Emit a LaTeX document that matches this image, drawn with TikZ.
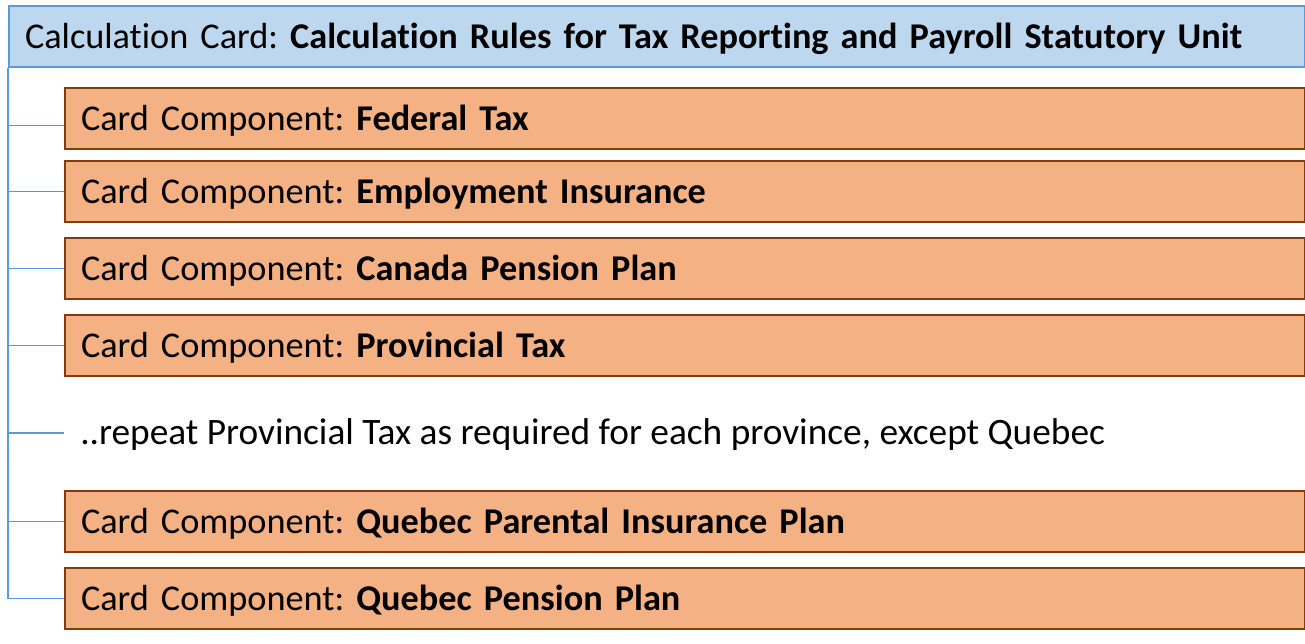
\documentclass[tikz,border=0pt]{standalone}
\usepackage{fontspec}
\setmainfont{Carlito}[Ligatures={NoCommon}]
\frenchspacing
\definecolor{hdrfill}{HTML}{BDD7EE}
\definecolor{hdrline}{HTML}{5B9BD5}
\definecolor{cmpfill}{HTML}{F4B183}
\definecolor{cmpline}{HTML}{843C0C}
\tikzset{
  base/.style={anchor=north west, align=left, inner xsep=12pt, inner ysep=0pt,
    font=\fontsize{27.2}{32}\selectfont\frenchspacing, text height=17.4pt, text depth=0pt,
    minimum height=45.75pt},
  hdrbox/.style={base, draw=hdrline, fill=hdrfill, line width=1.5pt, text width=948pt},
  cmpbox/.style={base, draw=cmpline, fill=cmpfill, line width=1.5pt, text width=906pt},
  plain/.style={anchor=west, inner xsep=12pt, inner ysep=0pt,
    font=\fontsize{28}{33}\selectfont\frenchspacing, text height=17.4pt, text depth=0pt},
  conn/.style={draw=hdrline, line width=0.8pt}
}
\begin{document}
\begin{tikzpicture}[x=0.75pt, y=-0.75pt]
\useasboundingbox (0,0) rectangle (1305,643);
\node[hdrbox] (hdr) at (8,5) {Calculation Card: \textbf{Calculation Rules for Tax Reporting and Payroll Statutory Unit}};
\node[cmpbox] (b1) at (64,87) {Card Component: \textbf{Federal Tax}};
\node[cmpbox] (b2) at (64,160) {Card Component: \textbf{Employment Insurance}};
\node[cmpbox] (b3) at (64,237) {Card Component: \textbf{Canada Pension Plan}};
\node[cmpbox] (b4) at (64,314) {Card Component: \textbf{Provincial Tax}};
\coordinate (rp) at (64,433);
\node[plain] (rep) at (rp) {..repeat Provincial Tax as required for each province, except Quebec};
\node[cmpbox] (b6) at (64,490) {Card Component: \textbf{Quebec Parental Insurance Plan}};
\node[cmpbox] (b7) at (64,567) {Card Component: \textbf{Quebec Pension Plan}};
\coordinate (b1c) at ([yshift=-4.9pt]b1.west);
\draw[conn] (hdr.south west) |- (b7.west);
\draw[conn] (hdr.south west |- b1c) -- (b1c);
\draw[conn] (hdr.south west |- b2.west) -- (b2.west);
\draw[conn] (hdr.south west |- b3.west) -- (b3.west);
\draw[conn] (hdr.south west |- b4.west) -- (b4.west);
\draw[conn] (hdr.south west |- rep.west) -- (rep.west);
\draw[conn] (hdr.south west |- b6.west) -- (b6.west);
\end{tikzpicture}
\end{document}
